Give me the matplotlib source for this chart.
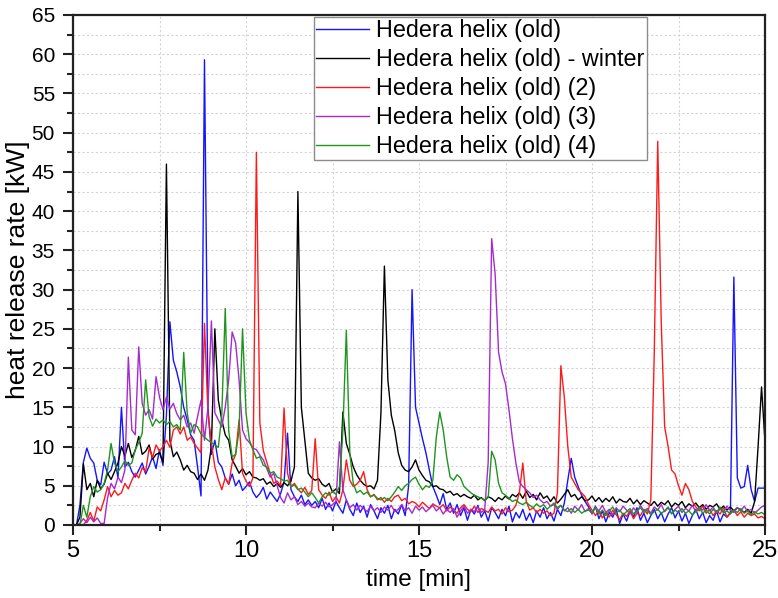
import numpy as np
import matplotlib
matplotlib.use("Agg")
from matplotlib import pyplot as plt
from matplotlib.ticker import MultipleLocator

plt.rcParams['font.family'] = ['Liberation Sans', 'DejaVu Sans']

# sample grid, one point every 0.1 min from 5 to 25 min
time = np.round(np.arange(5.0, 25.05, 0.1), 1)

# heat release rate [kW], one row per minute
old = [
    0.0, 0.0, 2.5, 8.0, 9.8, 8.5, 7.9, 5.7, 5.1, 8.0,
    6.5, 7.0, 8.7, 6.0, 15.0, 7.4, 8.0, 6.8, 6.1, 7.0,
    7.9, 6.5, 7.5, 8.7, 7.2, 9.6, 7.6, 14.0, 25.9, 21.0,
    19.5, 17.6, 15.0, 13.4, 11.5, 10.8, 7.4, 3.7, 59.3, 15.0,
    9.0, 10.8, 8.0, 7.4, 6.0, 5.2, 6.5, 5.0, 5.7, 4.4,
    4.9, 5.5, 4.2, 3.5, 4.0, 4.8, 3.3, 4.2, 3.6, 3.0,
    4.0, 5.5, 11.7, 4.5, 3.6, 3.0, 3.8, 2.6, 3.2, 2.5,
    3.0, 2.2, 3.4, 2.0, 2.8, 1.8, 3.0, 2.2, 1.5, 3.2,
    2.0, 1.2, 2.8, 1.6, 2.4, 1.0, 2.6, 1.8, 0.8, 2.2,
    1.5, 2.5, 0.8, 2.0, 1.4, 2.6, 1.2, 5.0, 30.0, 15.0,
    13.0, 11.0, 9.2, 7.0, 4.9, 3.8, 2.6, 4.0, 2.0, 2.8,
    1.5, 2.6, 1.2, 2.2, 0.6, 2.0, 1.4, 2.5, 1.0, 1.8,
    0.5, 2.2, 1.6, 0.8, 2.0, 1.2, 2.4, 0.4, 1.6, 0.9,
    2.0, 0.6, 1.5, 0.3, 1.8, 1.0, 2.2, 0.8, 1.6, 0.5,
    2.0, 1.2, 2.8, 5.7, 8.5, 6.1, 4.9, 3.8, 3.0, 2.3,
    1.5, 2.4, 0.8, 1.8, 0.4, 1.6, 1.0, 2.0, 0.2, 1.4,
    0.5, 1.8, 1.0, 2.2, 0.6, 1.5, 0.3, 1.2, 2.0, 0.8,
    1.6, 0.4, 1.4, 2.2, 0.9, 1.8, 0.5, 1.5, 0.2, 1.2,
    2.0, 0.8, 1.6, 0.3, 1.2, 0.6, 1.8, 0.4, 1.4, 1.0,
    1.5, 31.6, 6.0, 4.7, 4.9, 7.6, 4.5, 3.0, 4.7, 4.7,
    4.7,
]

winter = [
    0.0, 0.0, 1.0, 7.8, 4.5, 5.3, 3.6, 5.7, 4.6, 5.2,
    6.6, 5.8, 6.8, 7.9, 10.0, 8.8, 10.4, 8.6, 9.5, 11.3,
    9.0, 9.4, 10.2, 8.4, 9.0, 9.2, 8.0, 46.0, 10.8, 8.7,
    9.3, 8.3, 7.0, 7.6, 6.8, 6.6, 5.8, 6.5, 5.7, 7.0,
    10.0, 25.0, 15.9, 13.4, 11.5, 10.8, 8.3, 7.5, 6.6, 7.2,
    6.4, 6.8, 6.1, 6.0, 5.7, 5.9, 5.2, 5.5, 4.9, 5.3,
    4.8, 5.4, 5.0, 5.6, 7.4, 42.5, 15.0, 10.8, 6.6, 6.0,
    5.7, 5.9, 5.2, 4.9, 5.3, 4.2, 4.6, 4.0, 14.4, 10.4,
    9.0, 7.4, 6.4, 5.7, 5.2, 4.9, 5.0, 4.6, 5.7, 14.3,
    33.0, 18.5, 14.0, 12.0, 9.2, 7.6, 7.0, 6.8, 7.4, 8.3,
    7.0, 6.3, 5.7, 5.5, 4.9, 5.0, 4.6, 4.5, 4.1, 4.3,
    3.8, 4.0, 3.6, 3.9, 3.6, 3.4, 3.8, 3.2, 3.5, 3.1,
    3.6, 3.4, 3.0, 3.5, 3.2, 3.7, 3.3, 3.9, 3.6, 4.1,
    3.4, 4.3, 3.5, 3.9, 3.2, 4.1, 3.4, 3.7, 3.0, 3.6,
    2.8, 3.3, 3.9, 4.5, 3.6, 3.9, 3.2, 3.6, 3.1, 3.2,
    3.7, 3.0, 3.5, 2.9, 3.4, 3.0, 3.6, 2.8, 3.3, 3.0,
    2.9, 3.4, 2.7, 3.2, 2.6, 3.1, 2.8, 2.5, 3.0, 2.4,
    2.9, 2.6, 3.1, 2.3, 2.8, 2.5, 3.0, 2.2, 2.7, 2.4,
    2.8, 2.2, 2.6, 2.0, 2.5, 2.3, 2.7, 2.0, 2.4, 1.9,
    2.3, 1.8, 2.2, 1.9, 1.6, 2.0, 1.5, 3.0, 10.0, 17.6,
    10.6,
]

run2 = [
    0.0, 0.0, 0.0, 0.0, 0.6, 1.6, 0.5, 2.3, 1.8, 3.2,
    4.9, 3.6, 4.4, 3.8, 4.1, 5.3, 4.6, 5.7, 6.6, 6.0,
    7.3, 6.8, 9.8, 8.6, 10.2, 9.4, 10.0, 10.8, 9.9, 12.1,
    12.5, 11.6, 12.5, 10.8, 11.2, 10.4, 9.8, 9.2, 25.7, 14.3,
    10.4, 7.4, 5.8, 4.5, 6.0, 5.2, 7.9, 9.0, 13.4, 6.6,
    5.6, 4.9, 6.0, 47.5, 13.0, 9.5, 8.0, 6.6, 5.3, 5.6,
    5.0, 14.9, 6.6, 4.9, 5.3, 4.6, 4.1, 4.8, 3.9, 4.4,
    11.0, 4.5, 3.8, 3.4, 4.2, 3.0, 3.6, 2.8, 4.5, 8.3,
    5.7, 4.9, 5.2, 5.7, 6.8, 4.5, 3.6, 3.9, 3.2, 3.5,
    2.9, 3.4, 3.0, 3.6, 3.8, 3.1, 3.4, 2.7, 3.0, 2.8,
    2.3, 2.9, 2.5, 2.1, 2.7, 2.4, 2.2, 2.6, 1.8, 2.3,
    1.9, 1.5, 2.2, 2.6, 2.0, 1.7, 2.4, 1.6, 2.1, 1.9,
    1.6, 2.3, 1.8, 2.0, 1.4, 2.2, 1.7, 1.9, 2.5, 4.1,
    7.9, 3.0, 1.9, 2.2, 1.6, 2.0, 1.5, 1.8, 1.2, 1.5,
    4.1, 20.3, 16.3, 10.0, 6.1, 5.3, 4.5, 4.1, 3.6, 2.6,
    1.9, 1.2, 1.8, 0.9, 1.6, 1.0, 1.9, 1.3, 0.7, 1.5,
    1.1, 1.8, 0.8, 1.5, 1.2, 2.0, 1.4, 3.2, 22.0, 48.9,
    26.0, 12.5, 10.0, 7.0, 6.5, 5.0, 3.8, 5.3, 4.5, 3.0,
    2.3, 1.8, 2.4, 1.5, 2.0, 1.2, 1.8, 1.4, 2.2, 1.0,
    1.6, 1.9, 1.2, 1.7, 1.0, 1.5, 1.2, 1.4, 0.9, 1.1,
    0.8,
]

run3 = [
    0.0, 0.0, 0.2, 0.8, 0.3, 1.0, 0.4, 0.9, 0.2, 0.2,
    3.5, 5.3, 4.6, 6.1, 5.4, 7.0, 21.4, 12.1, 11.5, 22.7,
    15.5, 14.0, 14.7, 13.5, 18.9, 16.3, 14.7, 16.3, 14.8, 15.5,
    14.2, 13.4, 14.0, 12.5, 13.0, 11.7, 13.8, 15.9, 10.8, 15.0,
    26.0, 14.3, 13.4, 12.5, 15.0, 18.5, 24.6, 23.2, 18.5, 12.1,
    11.0, 10.5, 9.8, 9.6, 8.9, 8.3, 7.2, 6.1, 6.6, 5.0,
    3.5, 2.8, 4.1, 3.2, 3.6, 2.6, 3.0, 2.4, 2.8, 2.3,
    2.2, 2.8, 2.4, 2.9, 2.3, 2.6, 3.0, 10.6, 4.5, 3.2,
    2.2, 2.6, 1.9, 2.5, 2.1, 1.7, 2.4, 1.8, 2.2, 1.6,
    2.3, 1.9, 2.5, 1.7, 2.0, 2.6, 1.8, 2.2, 1.5, 2.4,
    1.9, 2.3, 1.7, 2.1, 2.5, 1.8, 2.2, 1.4, 2.0, 1.6,
    2.1, 1.0, 1.8, 2.4, 1.5, 2.0, 1.7, 2.3, 1.6, 2.0,
    8.0, 36.5, 32.0, 22.0, 19.5, 18.0, 14.7, 11.0, 7.9, 5.5,
    4.9, 4.5, 4.1, 3.5, 3.8, 3.2, 2.8, 3.0, 2.4, 2.6,
    2.0, 2.5, 1.8, 2.2, 1.5, 2.4, 1.9, 2.6, 1.7, 2.1,
    1.4, 2.3, 1.8, 2.5, 1.6, 2.0, 1.3, 2.2, 1.7, 2.4,
    1.9, 1.4, 2.2, 1.6, 2.5, 1.8, 2.1, 1.5, 2.3, 1.9,
    2.6, 1.7, 2.2, 1.5, 2.0, 2.4, 1.6, 2.1, 1.8, 2.5,
    1.7, 2.2, 1.9, 2.6, 1.8, 2.3, 1.5, 2.0, 1.7, 2.4,
    1.9, 1.6, 2.2, 1.8, 2.4, 1.7, 2.0, 1.5, 1.9, 2.3,
    2.5,
]

run4 = [
    0.0, 0.0, 0.0, 2.5, 1.0, 3.6, 4.9, 4.2, 4.5, 5.3,
    7.0, 10.4, 7.9, 6.8, 7.4, 8.2, 7.6, 7.9, 9.6, 10.5,
    11.7, 18.5, 13.8, 12.6, 13.5, 13.0, 13.4, 12.8, 13.2, 12.5,
    12.8, 12.1, 22.0, 14.3, 11.7, 12.8, 12.5, 11.6, 11.2, 10.8,
    10.5, 10.2, 9.9, 14.0, 27.6, 12.0, 8.7, 9.0, 12.0, 25.0,
    14.3, 10.8, 9.6, 8.5, 8.7, 7.6, 7.4, 6.6, 6.8, 6.1,
    5.9, 5.6, 5.7, 4.9, 5.1, 4.5, 4.7, 4.2, 3.6, 4.1,
    3.5, 2.8, 3.6, 4.1, 3.8, 4.3, 3.9, 4.9, 12.1, 24.8,
    9.2, 5.3, 4.1, 4.4, 3.9, 4.2, 3.6, 3.8, 3.4, 3.2,
    3.5, 3.1, 3.6, 4.2, 4.9, 4.4, 5.0, 5.3, 5.8, 6.1,
    5.2, 4.5, 5.0, 4.8, 5.7, 11.2, 14.4, 12.1, 8.7, 6.1,
    5.7, 6.4, 6.0, 4.9, 4.5, 4.1, 3.8, 3.6, 3.4, 3.2,
    3.5, 9.4, 8.3, 5.3, 4.1, 3.8, 3.4, 3.0, 3.2, 2.8,
    2.6, 2.9, 2.5, 2.2, 2.7, 2.3, 2.6, 2.0, 2.4, 2.8,
    2.2, 2.5, 1.9, 1.7, 2.1, 1.6, 2.0, 1.5, 1.8, 1.9,
    1.6, 2.2, 1.4, 1.9, 1.2, 1.8, 2.3, 1.5, 1.9, 1.3,
    1.7, 2.1, 1.4, 1.8, 2.2, 1.6, 1.9, 1.3, 1.7, 2.0,
    1.5, 1.8, 2.3, 1.4, 1.9, 1.6, 2.1, 1.5, 1.8, 1.3,
    1.7, 2.2, 1.5, 1.9, 1.4, 2.0, 1.6, 2.3, 1.5, 1.8,
    1.4, 1.9, 1.6, 2.1, 1.5, 1.8, 1.3, 1.7, 1.4, 1.6,
    1.3,
]

labels = [
    "Hedera helix (old)",
    "Hedera helix (old) - winter",
    "Hedera helix (old) (2)",
    "Hedera helix (old) (3)",
    "Hedera helix (old) (4)",
]
series = [old, winter, run2, run3, run4]
colors = ["#1414ff", "#000000", "#ff1a1a", "#a52ad2", "#1e961e"]


fig = plt.figure(figsize=(7.78, 5.98), dpi=100)
ax = fig.add_axes([73 / 778, 1 - 525 / 598, 692 / 778, 510 / 598])

for values, label, c in zip(series, labels, colors):
    ax.plot(time, values, color=c, lw=1.0, label=label)

ax.set_xlim(5, 25)
ax.set_ylim(0, 65)
ax.xaxis.set_major_locator(MultipleLocator(5))
ax.xaxis.set_minor_locator(MultipleLocator(2.5))
ax.yaxis.set_major_locator(MultipleLocator(5))
ax.yaxis.set_minor_locator(MultipleLocator(2.5))

# dotted grid on every tick, major and minor
ax.grid(which="both", color="#d4d4d4", linestyle=(0, (2, 2)), linewidth=0.8)
ax.set_axisbelow(True)

for s in ax.spines.values():
    s.set_linewidth(1.6)
    s.set_color("#222222")

ax.tick_params(which="major", direction="out", length=7, width=1.5,
               colors="#222222", labelcolor="black")
ax.tick_params(which="minor", direction="out", length=4, width=1.5,
               colors="#222222")
ax.tick_params(axis="x", which="major", labelsize=17, pad=4)
ax.tick_params(axis="y", which="major", labelsize=15, pad=6)

ax.set_xlabel("time [min]", fontsize=17.5, labelpad=5)
ax.set_ylabel("heat release rate [kW]", fontsize=19)
# right edge of the rotated label sits about 30 px from the figure edge
ax.yaxis.set_label_coords(-43 / 692, 0.5)

leg = ax.legend(loc="upper left", bbox_to_anchor=(0.348, 0.996),
                borderaxespad=0, fontsize=16.8, frameon=True, fancybox=False,
                handlelength=2.3, handletextpad=0.3, labelspacing=0.26,
                borderpad=0.08, framealpha=1.0)
leg.get_frame().set_edgecolor("#8c8c8c")
leg.get_frame().set_linewidth(1.0)

fig.savefig("out.png", dpi=100)
